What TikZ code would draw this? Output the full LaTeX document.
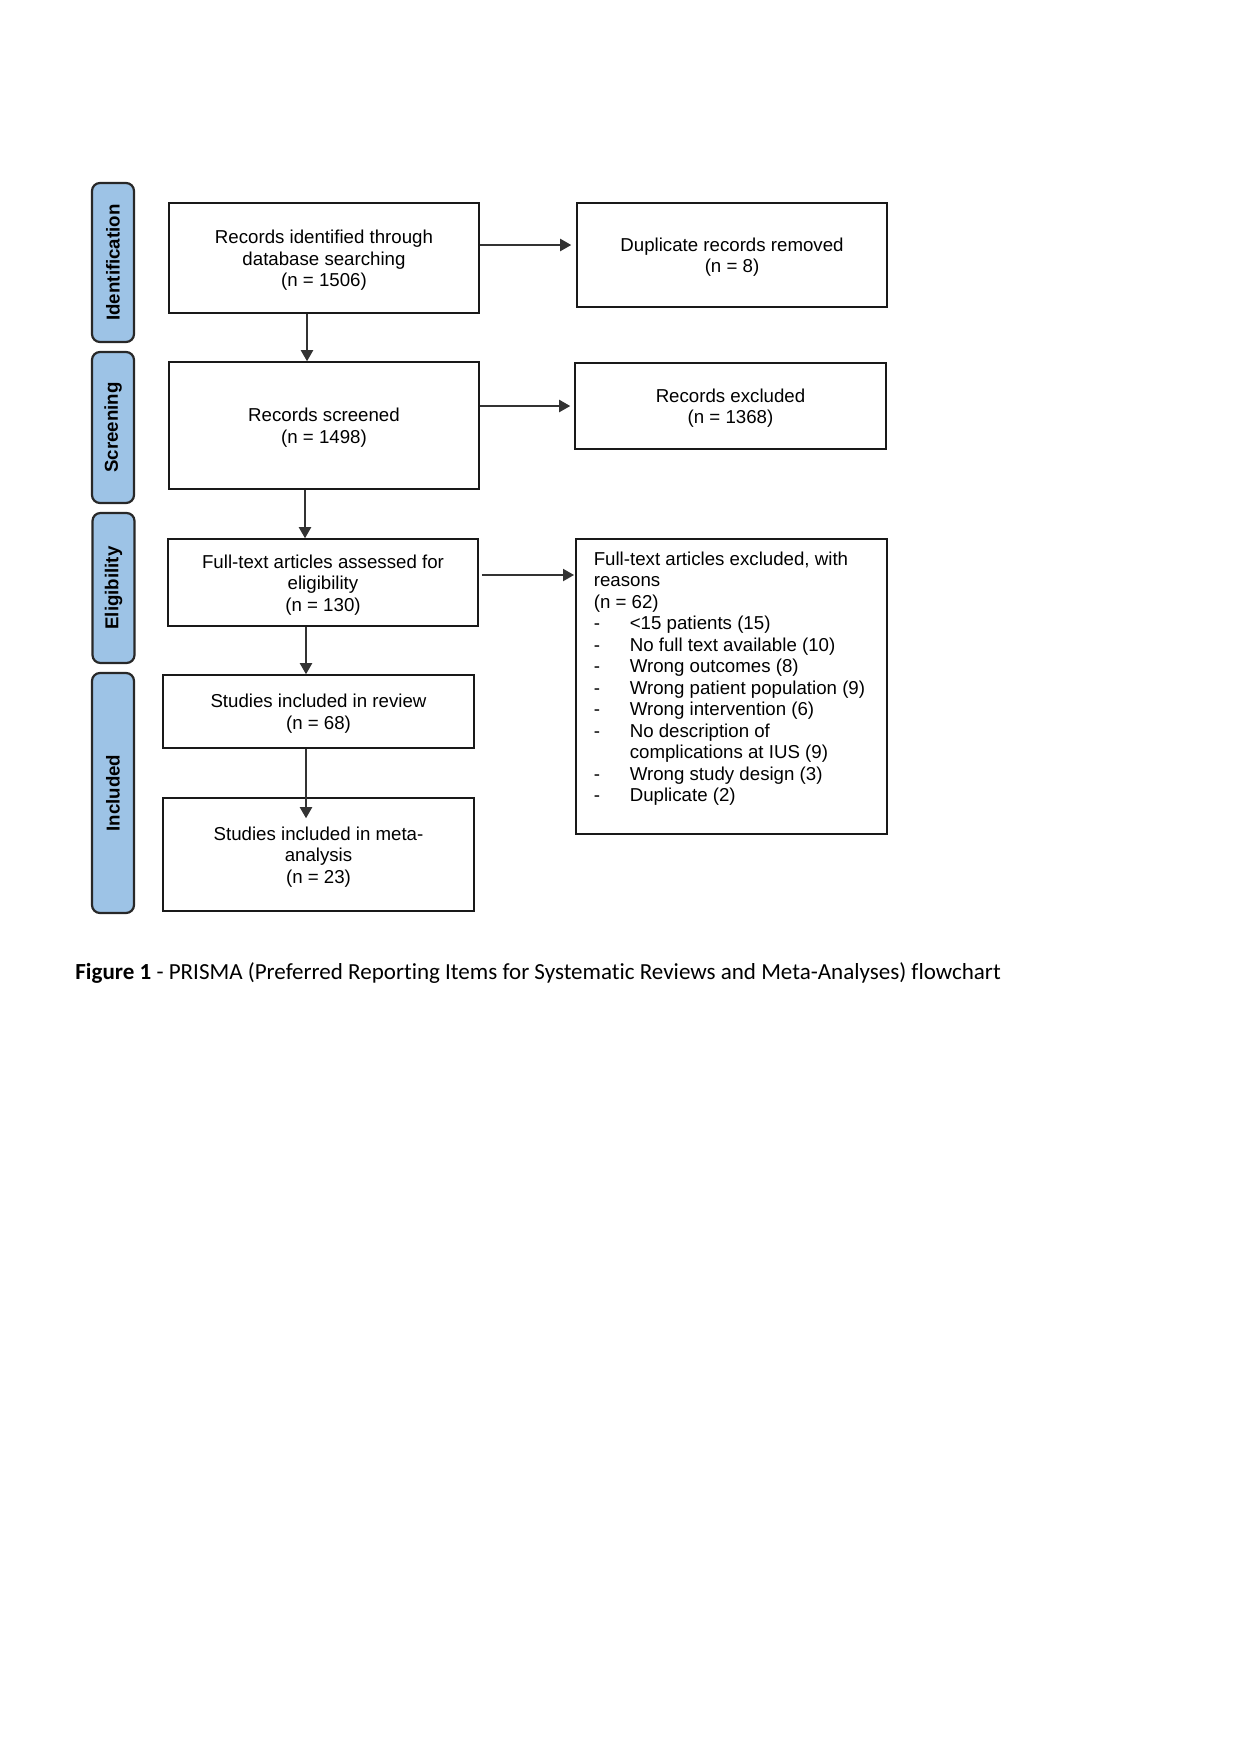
\documentclass[tikz,border=0pt]{standalone}
\usepackage{fontspec}
\setmainfont{Liberation Sans}
\newfontfamily\capfont[Ligatures=NoCommon]{Carlito}
\usetikzlibrary{arrows.meta,calc}
\newdimen\pxu
\pxu=0.48185pt
\definecolor{sidefill}{RGB}{157,195,230}
\definecolor{sidedraw}{RGB}{40,40,40}
\newcommand{\topstrut}{\rule{0pt}{8.7pt}}
\tikzset{
  sidebox/.style={draw=sidedraw, line width=1.06pt, fill=sidefill, rounded corners=3.85pt,
    minimum width=20.24pt, inner sep=0pt, font=\fontsize{9}{10.4}\selectfont\bfseries},
  flowbox/.style={draw=black!90, line width=0.77pt, fill=white, inner sep=0pt, align=center,
    font=\fontsize{9}{10.36}\selectfont},
  flowarrow/.style={draw=black!80, line width=0.6pt, -{Triangle[length=5.3pt,width=5.9pt]}},
}
\begin{document}
\begin{tikzpicture}[x=0.48185pt, y=-0.48185pt]
\useasboundingbox[fill=white] (0,0) rectangle (1241,1755);
% side labels
\node[sidebox, minimum height=76.61pt] (sid) at (113,262.5) {\rotatebox{90}{Identification}};
\node[sidebox, minimum height=72.76pt] (ssc) at (113,427.5) {\rotatebox{90}{Screening}};
\node[sidebox, minimum height=72.28pt] (sel) at (113.5,588) {\rotatebox{90}{Eligibility}};
\node[sidebox, minimum height=115.64pt] (sin) at (113,793) {\rotatebox{90}{Included}};
% main boxes
\node[flowbox, minimum width=149.37pt, minimum height=53pt] (b1) at (324,258)
  {\topstrut Records identified through\\database searching\\(n = 1506)};
\node[flowbox, minimum width=149.37pt, minimum height=61.19pt] (b2) at (324,425.5)
  {\topstrut Records screened\\(n = 1498)};
\node[flowbox, minimum width=149.37pt, minimum height=41.92pt] (b3) at (323,582.5)
  {\topstrut Full-text articles assessed for\\eligibility\\(n = 130)};
\node[flowbox, minimum width=149.86pt, minimum height=35.18pt] (b4) at (318.5,711.5)
  {\topstrut Studies included in review\\(n = 68)};
\node[flowbox, minimum width=149.86pt, minimum height=54.45pt] (b5) at (318.5,854.5)
  {\topstrut Studies included in meta-\\analysis\\(n = 23)};
% right boxes
\node[flowbox, minimum width=149.37pt, minimum height=50.11pt] (dup) at (732,255)
  {\topstrut Duplicate records removed\\(n = 8)};
\node[flowbox, minimum width=149.86pt, minimum height=41.44pt] (exc) at (730.5,406)
  {\topstrut Records excluded\\(n = 1368)};
\node[flowbox, align=left, anchor=north west, inner xsep=8.67pt, inner ysep=0pt] (ftx) at (575,538)
  {\parbox[c][295\pxu][t]{275\pxu}{\vspace*{13\pxu}\raggedright
   Full-text articles excluded, with\\reasons\\(n = 62)\\
   \makebox[36\pxu][l]{-}\textless15 patients (15)\\
   \makebox[36\pxu][l]{-}No full text available (10)\\
   \makebox[36\pxu][l]{-}Wrong outcomes (8)\\
   \makebox[36\pxu][l]{-}Wrong patient population (9)\\
   \makebox[36\pxu][l]{-}Wrong intervention (6)\\
   \makebox[36\pxu][l]{-}No description of\\
   \makebox[36\pxu][l]{}complications at IUS (9)\\
   \makebox[36\pxu][l]{-}Wrong study design (3)\\
   \makebox[36\pxu][l]{-}Duplicate (2)}};
% connectors
\draw[flowarrow] (b1.south -| 307,0) -- (b2.north -| 307,0);
\draw[flowarrow] (b2.south -| 305,0) -- (b3.north -| 305,0);
\draw[flowarrow] (b3.south -| 306,0) -- (b4.north -| 306,0);
\coordinate (b5in) at ($(b5.north -| 306,0)+(0,21)$);
\draw[flowarrow] (b4.south -| 306,0) -- (b5in);
\coordinate (dupin) at ($(dup.west |- 0,245)+(-5,0)$);
\draw[flowarrow] (b1.east |- 0,245) -- (dupin);
\coordinate (excin) at ($(exc.west)+(-4,0)$);
\draw[flowarrow] (b2.east |- exc.west) -- (excin);
\coordinate (ftxin) at ($(ftx.west |- 0,575)+(-1,0)$);
\draw[flowarrow] ($(b3.east |- 0,575)+(3,0)$) -- (ftxin);
% caption
\node[anchor=base west, inner sep=0pt, font=\capfont\fontsize{11.1}{13}\selectfont] (cap) at (75,979)
  {\textbf{Figure 1} - PRISMA (Preferred Reporting Items for Systematic Reviews and Meta-Analyses) flowchart};
\end{tikzpicture}
\end{document}
